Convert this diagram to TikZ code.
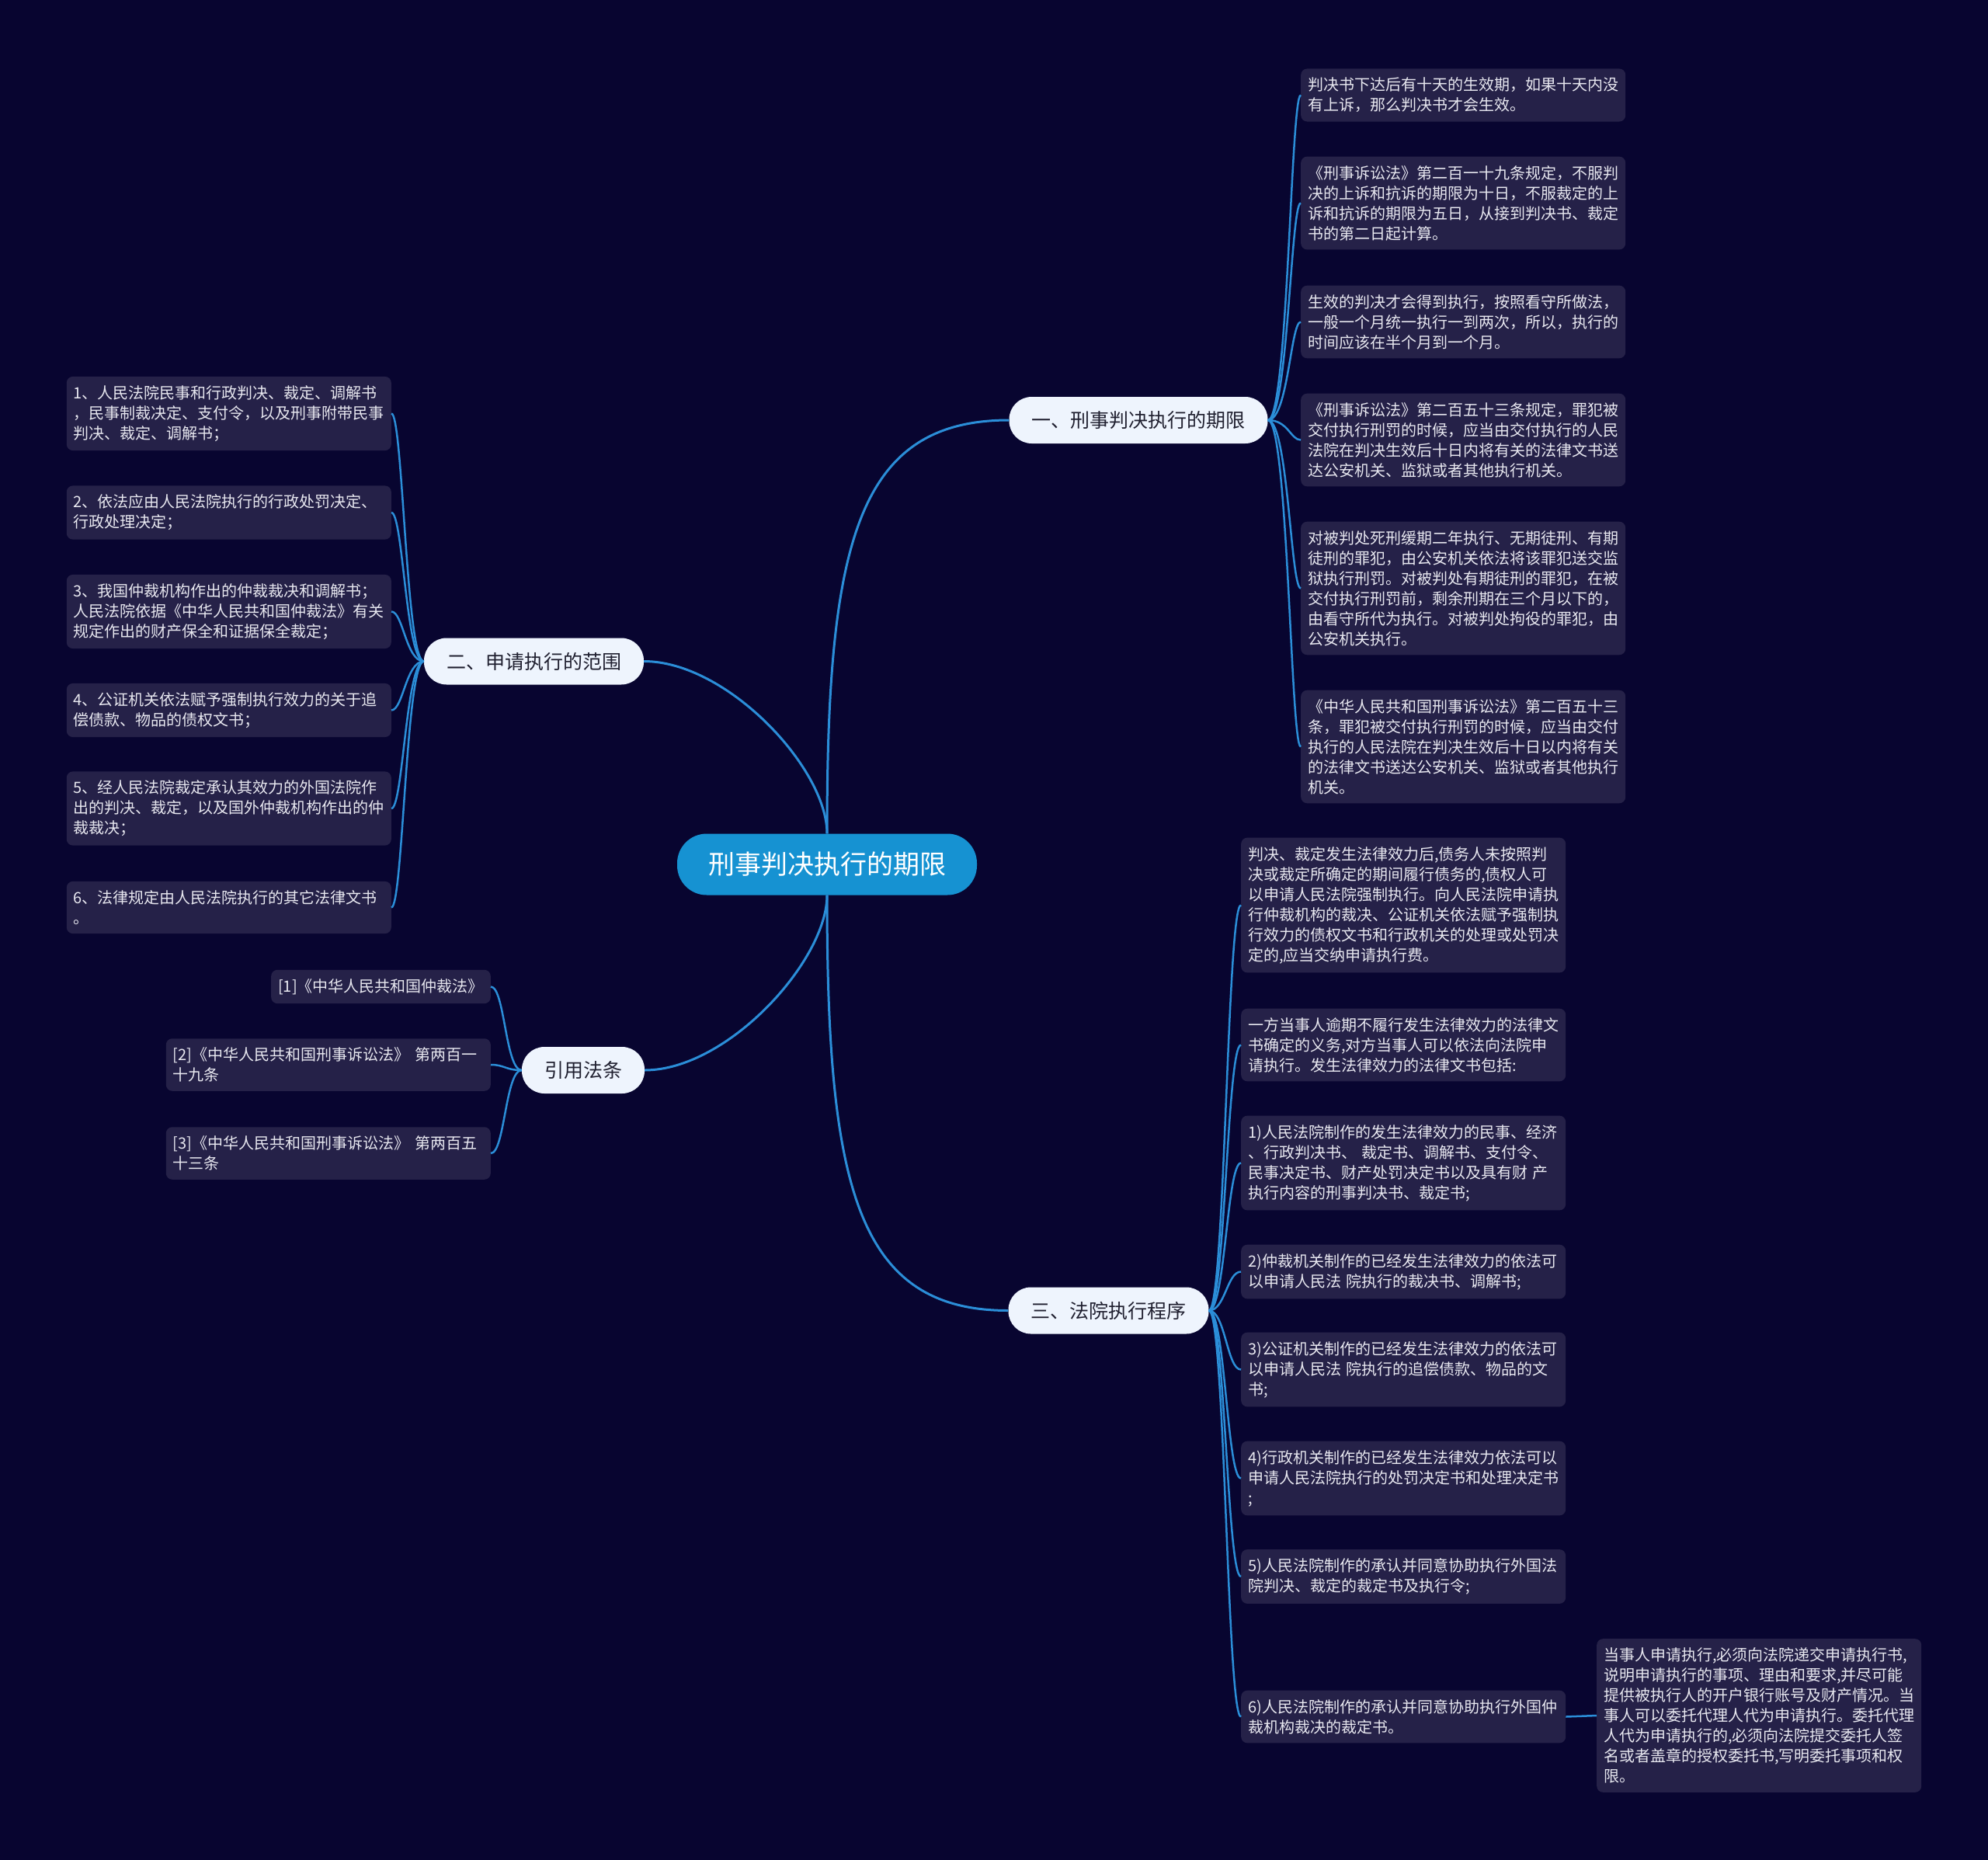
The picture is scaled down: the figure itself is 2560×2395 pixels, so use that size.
\documentclass[tikz,border=0pt]{standalone}
\usepackage{fontspec}
\setmainfont{Noto Sans CJK SC}

\definecolor{bgnavy}{HTML}{080530}
\definecolor{rootblue}{HTML}{1692D2}
\definecolor{linkblue}{HTML}{2B8ED8}
\definecolor{topicfill}{HTML}{EEF4FD}
\definecolor{topictext}{HTML}{202030}
\definecolor{leaffill}{HTML}{252148}
\definecolor{leaftext}{HTML}{E8E8F0}

\tikzset{
  rootbox/.style={rounded corners=38pt, fill=rootblue, text=white,
    font=\fontsize{34}{40}\selectfont, minimum height=79pt, inner xsep=40pt},
  topicbox/.style={rounded corners=29pt, fill=topicfill, text=topictext,
    font=\fontsize{25}{30}\selectfont, minimum height=60pt, inner xsep=29pt},
  leafbox/.style={rounded corners=8pt, fill=leaffill, text=leaftext,
    font=\fontsize{20}{26}\selectfont, align=left, inner xsep=9pt, inner ysep=11.5pt},
  leafwide/.style={leafbox, text width=400pt},
  trunk/.style={draw=linkblue, line width=3pt},
  twig/.style={draw=linkblue, line width=2.5pt},
}

\begin{document}
\begin{tikzpicture}[x=1pt, y=-1pt]
  \useasboundingbox (0,0) rectangle (2560,2395);
  \fill[bgnavy] (0,0) rectangle (2560,2395);

  % Centre and main topics
  \node[rootbox]  (root) at (1065,1113)   {刑事判决执行的期限};
  \node[topicbox] (t1)   at (1466,541)    {一、刑事判决执行的期限};
  \node[topicbox] (t2)   at (687.5,851.5) {二、申请执行的范围};
  \node[topicbox] (t3)   at (751,1378)    {引用法条};
  \node[topicbox] (t4)   at (1427.5,1687.5) {三、法院执行程序};

  % Topic 1 leaves
  \node[leafwide, anchor=west] (l1a) at (1675,122.5) {判决书下达后有十天的生效期，如果十天内没\\有上诉，那么判决书才会生效。};
  \node[leafwide, anchor=west] (l1b) at (1675,261.5) {《刑事诉讼法》第二百一十九条规定，不服判\\决的上诉和抗诉的期限为十日，不服裁定的上\\诉和抗诉的期限为五日，从接到判决书、裁定\\书的第二日起计算。};
  \node[leafwide, anchor=west] (l1c) at (1675,414.5) {生效的判决才会得到执行，按照看守所做法，\\一般一个月统一执行一到两次，所以，执行的\\时间应该在半个月到一个月。};
  \node[leafwide, anchor=west] (l1d) at (1675,566.5) {《刑事诉讼法》第二百五十三条规定，罪犯被\\交付执行刑罚的时候，应当由交付执行的人民\\法院在判决生效后十日内将有关的法律文书送\\达公安机关、监狱或者其他执行机关。};
  \node[leafwide, anchor=west] (l1e) at (1675,757.5) {对被判处死刑缓期二年执行、无期徒刑、有期\\徒刑的罪犯，由公安机关依法将该罪犯送交监\\狱执行刑罚。对被判处有期徒刑的罪犯，在被\\交付执行刑罚前，剩余刑期在三个月以下的，\\由看守所代为执行。对被判处拘役的罪犯，由\\公安机关执行。};
  \node[leafwide, anchor=west] (l1f) at (1675,961.5) {《中华人民共和国刑事诉讼法》第二百五十三\\条，罪犯被交付执行刑罚的时候，应当由交付\\执行的人民法院在判决生效后十日以内将有关\\的法律文书送达公安机关、监狱或者其他执行\\机关。};

  % Topic 2 leaves
  \node[leafwide, anchor=east] (l2a) at (504,532.5) {1、人民法院民事和行政判决、裁定、调解书\\，民事制裁决定、支付令，以及刑事附带民事\\判决、裁定、调解书；};
  \node[leafwide, anchor=east] (l2b) at (504,660) {2、依法应由人民法院执行的行政处罚决定、\\行政处理决定；};
  \node[leafwide, anchor=east] (l2c) at (504,787.5) {3、我国仲裁机构作出的仲裁裁决和调解书；\\人民法院依据《中华人民共和国仲裁法》有关\\规定作出的财产保全和证据保全裁定；};
  \node[leafwide, anchor=east] (l2d) at (504,914.5) {4、公证机关依法赋予强制执行效力的关于追\\偿债款、物品的债权文书；};
  \node[leafwide, anchor=east] (l2e) at (504,1041) {5、经人民法院裁定承认其效力的外国法院作\\出的判决、裁定，以及国外仲裁机构作出的仲\\裁裁决；};
  \node[leafwide, anchor=east] (l2f) at (504,1168.5) {6、法律规定由人民法院执行的其它法律文书\\。};

  % Cited laws
  \node[leafbox, anchor=east]  (l3a) at (632,1270.5) {[1]《中华人民共和国仲裁法》};
  \node[leafwide, anchor=east] (l3b) at (632,1371) {[2]《中华人民共和国刑事诉讼法》 第两百一\\十九条};
  \node[leafwide, anchor=east] (l3c) at (632,1485) {[3]《中华人民共和国刑事诉讼法》 第两百五\\十三条};

  % Topic 3 leaves
  \node[leafwide, anchor=west] (l4a) at (1598,1165.5) {判决、裁定发生法律效力后,债务人未按照判\\决或裁定所确定的期间履行债务的,债权人可\\以申请人民法院强制执行。向人民法院申请执\\行仲裁机构的裁决、公证机关依法赋予强制执\\行效力的债权文书和行政机关的处理或处罚决\\定的,应当交纳申请执行费。};
  \node[leafwide, anchor=west] (l4b) at (1598,1345.5) {一方当事人逾期不履行发生法律效力的法律文\\书确定的义务,对方当事人可以依法向法院申\\请执行。发生法律效力的法律文书包括:};
  \node[leafwide, anchor=west] (l4c) at (1598,1497.5) {1)人民法院制作的发生法律效力的民事、经济\\、行政判决书、 裁定书、调解书、支付令、\\民事决定书、财产处罚决定书以及具有财 产\\执行内容的刑事判决书、裁定书;};
  \node[leafwide, anchor=west] (l4d) at (1598,1637.5) {2)仲裁机关制作的已经发生法律效力的依法可\\以申请人民法 院执行的裁决书、调解书;};
  \node[leafwide, anchor=west] (l4e) at (1598,1763.5) {3)公证机关制作的已经发生法律效力的依法可\\以申请人民法 院执行的追偿债款、物品的文\\书;};
  \node[leafwide, anchor=west] (l4f) at (1598,1903.5) {4)行政机关制作的已经发生法律效力依法可以\\申请人民法院执行的处罚决定书和处理决定书\\;};
  \node[leafwide, anchor=west] (l4g) at (1598,2030) {5)人民法院制作的承认并同意协助执行外国法\\院判决、裁定的裁定书及执行令;};
  \node[leafwide, anchor=west] (l4h) at (1598,2210.5) {6)人民法院制作的承认并同意协助执行外国仲\\裁机构裁决的裁定书。};
  \node[leafwide, anchor=west] (l4x) at (2056,2209) {当事人申请执行,必须向法院递交申请执行书,\\说明申请执行的事项、理由和要求,并尽可能\\提供被执行人的开户银行账号及财产情况。当\\事人可以委托代理人代为申请执行。委托代理\\人代为申请执行的,必须向法院提交委托人签\\名或者盖章的授权委托书,写明委托事项和权\\限。};

  % Trunks
  \draw[trunk] (root.north) .. controls +(0,-373) and +(-196,0) .. (t1.west);
  \draw[trunk] (root.north) .. controls +(0,-84) and +(107,0) .. (t2.east);
  \draw[trunk] (root.south) .. controls +(0,84) and +(107,0) .. (t3.east);
  \draw[trunk] (root.south) .. controls +(0,373) and +(-196,0) .. (t4.west);

  % Twigs
  \foreach \n in {a,b,c,d,e,f}
    \draw[twig] (t1.east) .. controls +(26,0) and +(-13,0) .. (l1\n.west);
  \foreach \n in {a,b,c,d,e,f}
    \draw[twig] (t2.west) .. controls +(-23,0) and +(15,0) .. (l2\n.east);
  \foreach \n in {a,b,c}
    \draw[twig] (t3.west) .. controls +(-21,0) and +(18,0) .. (l3\n.east);
  \foreach \n in {a,b,c,d,e,f,g,h}
    \draw[twig] (t4.east) .. controls +(21,0) and +(-18,0) .. (l4\n.west);
  \draw[twig] (l4h.east) -- (l4x.west);
\end{tikzpicture}
\end{document}
